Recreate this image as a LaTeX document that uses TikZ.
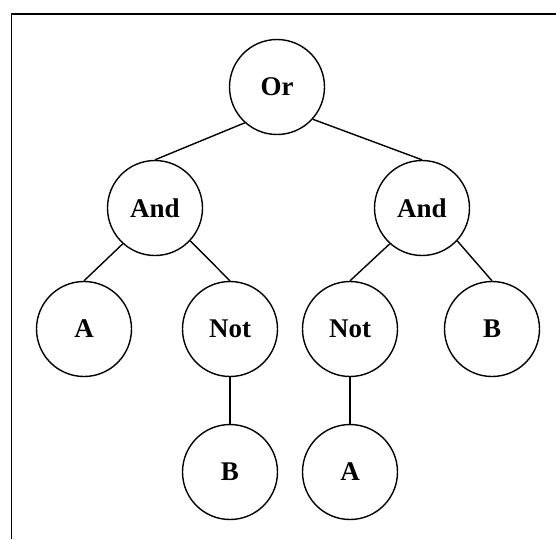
\documentclass[tikz,border=0pt]{standalone}
\usepackage{fontspec}
\setmainfont{Liberation Serif}
\begin{document}
\begin{tikzpicture}[x=1pt,y=-1pt,
  gate/.style={circle,draw,line width=1.4pt,minimum size=95pt,inner sep=0pt,
    font=\fontsize{27}{30}\selectfont\bfseries},
  branch/.style={line width=1.4pt}]
\useasboundingbox (0,0) rectangle (556,539);
% frame: top and left rules
\draw[line width=1.8pt] (556,14) -- (11.5,14) -- (11.5,539);
% operator tree
\node[gate] (or)   at (277,87)  {Or};
\node[gate] (and1) at (155,208) {And};
\node[gate] (and2) at (422,208) {And};
\node[gate] (a1)   at (84,329)  {A};
\node[gate] (not1) at (230,329) {Not};
\node[gate] (not2) at (350,329) {Not};
\node[gate] (b1)   at (492,329) {B};
\node[gate] (b2)   at (230,472) {B};
\node[gate] (a2)   at (350,472) {A};
\draw[branch] (or.-132) -- (and1.north);
\draw[branch] (or.-42) -- (and2.north);
\draw[branch] (and1.-132) -- (a1.north);
\draw[branch] (and1.-43) -- (not1.north);
\draw[branch] (and2.-132) -- (not2.north);
\draw[branch] (and2.-43) -- (b1.north);
\draw[branch] (not1) -- (b2);
\draw[branch] (not2) -- (a2);
\end{tikzpicture}
\end{document}
